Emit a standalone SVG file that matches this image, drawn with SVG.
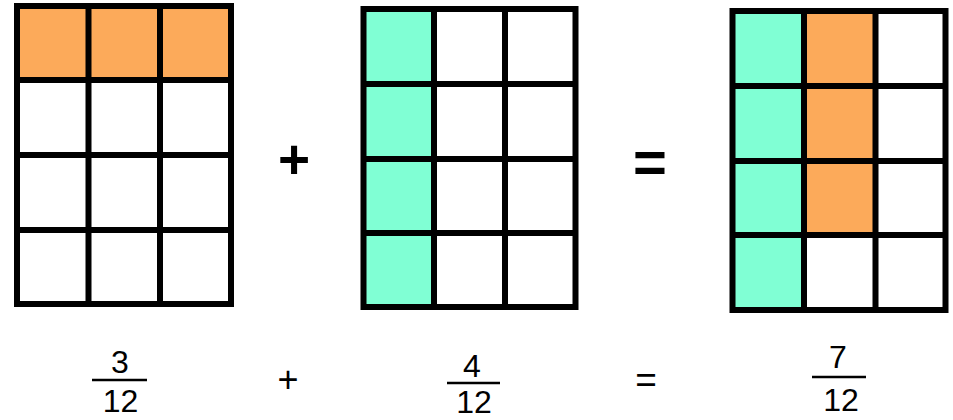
<svg xmlns="http://www.w3.org/2000/svg" width="953" height="420" viewBox="0 0 953 420">
<style>
.g{fill:none;stroke:#000;stroke-width:6;stroke-linecap:square}
.o{fill:#FCAA5A}
.t{fill:#80FFD4}
.w{fill:#fff}
.txt{font-family:"Liberation Sans",Arial,sans-serif;fill:#000;text-anchor:middle}
.bar{stroke:#000;stroke-width:2.5}
</style>
<rect width="953" height="420" fill="#fff"/>
<g id="grid1">
<rect class="o" x="17" y="6" width="214" height="74"/>
<path class="g" d="M17 6H231V304H17Z M88.5 6V304 M160 6V304 M17 80H231 M17 155H231 M17 230H231"/>
</g>
<g id="grid2">
<rect class="t" x="363.5" y="9" width="70.5" height="298"/>
<path class="g" d="M363.5 9H575.5V307H363.5Z M434 9V307 M505 9V307 M363.5 84H575.5 M363.5 159H575.5 M363.5 233H575.5"/>
</g>
<g id="grid3">
<rect class="t" x="732.5" y="11" width="71.5" height="299"/>
<rect class="o" x="804" y="11" width="71.5" height="224"/>
<path class="g" d="M732.5 11H945.5V310H732.5Z M804 11V310 M875.5 11V310 M732.5 86H945.5 M732.5 161H945.5 M732.5 235H945.5"/>
</g>
<g id="ops">
<text class="txt" x="294" y="178" font-size="55" font-weight="bold">+</text>
<text class="txt" x="650" y="182" font-size="58" font-weight="bold">=</text>
<text class="txt" x="288" y="392" font-size="36">+</text>
<text class="txt" x="646" y="392" font-size="37">=</text>
</g>
<g id="frac1">
<text class="txt" x="120" y="373" font-size="32">3</text>
<line class="bar" x1="92" y1="380" x2="147" y2="380"/>
<text class="txt" x="120.5" y="412" font-size="32">12</text>
</g>
<g id="frac2">
<text class="txt" x="472" y="377" font-size="32">4</text>
<line class="bar" x1="447" y1="383" x2="500" y2="383"/>
<text class="txt" x="474" y="413" font-size="32">12</text>
</g>
<g id="frac3">
<text class="txt" x="838" y="368" font-size="32">7</text>
<line class="bar" x1="812" y1="377" x2="866" y2="377"/>
<text class="txt" x="841" y="411" font-size="32">12</text>
</g>
</svg>
